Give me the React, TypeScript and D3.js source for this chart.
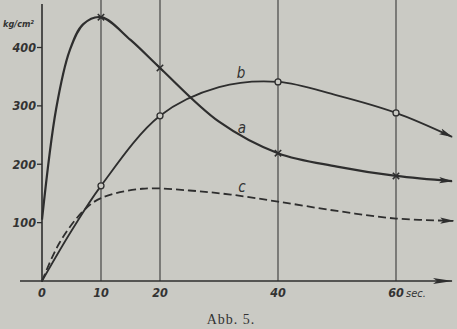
import React from "react";
import * as d3 from "d3";

const xTicks = [0, 10, 20, 40, 60];
const yTicks = [100, 200, 300, 400];
const gridX = [10, 20, 40, 60];

// curve a (stars at measured times)
const aX = [0, 2.4, 4.7, 7, 10, 15, 20, 30, 40, 50, 60, 69.5];
const aY = [105, 295, 395, 440, 452, 413, 365, 273, 219, 196, 180, 171];
const aMarks = [10, 20, 40, 60];
const aMarkY = [452, 365, 219, 180];

// curve b (circles)
const bX = [0, 5, 10, 20, 30, 40, 50, 60, 69.5];
const bY = [0, 86, 163, 283, 332, 341, 318, 288, 247];
const bMarks = [10, 20, 40, 60];
const bMarkY = [163, 283, 341, 288];

// curve c (dashed)
const cX = [0, 3, 7, 10, 17, 25, 32, 40, 50, 60, 69.7];
const cY = [0, 66, 120, 142, 158, 155, 148, 136, 120, 107, 103];

const BG = "#cacac4";
const INK = "#2e2e2e";

export default function App() {
  const x = d3.scaleLinear().domain([0, 60]).range([42, 396]);
  const y = d3.scaleLinear().domain([0, 400]).range([281, 47.5]);
  const line = d3
    .line<[number, number]>()
    .x((d) => x(d[0]))
    .y((d) => y(d[1]))
    .curve(d3.curveCatmullRom.alpha(0.5));
  const pts = (xs: number[], ys: number[]) => xs.map((v, i) => [v, ys[i]] as [number, number]);
  const tickFont = {
    fontFamily: "'DejaVu Sans Condensed', 'DejaVu Sans', sans-serif",
    fontStyle: "italic",
    fontWeight: 700 as const,
    fill: "#333",
  };

  return (
    <svg
      width={457}
      height={329}
      style={{ position: "absolute", left: 0, top: 0, background: BG }}
    >
      <defs>
        <marker id="arr" viewBox="0 0 14 8" refX="13" refY="4" markerWidth="14" markerHeight="8" markerUnits="userSpaceOnUse" orient="auto">
          <path d="M0,0.8 L14,4 L0,7.2 L3,4 Z" fill={INK} />
        </marker>
        <marker id="arrAx" viewBox="0 0 20 8" refX="19" refY="4" markerWidth="20" markerHeight="8" markerUnits="userSpaceOnUse" orient="auto">
          <path d="M0,1 L20,4 L0,7 L4,4 Z" fill={INK} />
        </marker>
      </defs>
      <rect width={457} height={329} fill={BG} />
      {gridX.map((g) => (
        <line key={g} x1={x(g)} x2={x(g)} y1={0} y2={y(0)} stroke="#3a3a3a" strokeWidth={1.1} />
      ))}
      <line x1={x(0)} x2={x(0)} y1={4} y2={y(0) + 1} stroke={INK} strokeWidth={1.6} />
      <line x1={20} x2={452} y1={y(0)} y2={y(0)} stroke={INK} strokeWidth={1.6} markerEnd="url(#arrAx)" />
      {yTicks.map((t) => (
        <g key={t}>
          <line x1={x(0) - 5} x2={x(0)} y1={y(t)} y2={y(t)} stroke={INK} strokeWidth={1.3} />
          <text x={36} y={y(t)} dy="0.36em" textAnchor="end" fontSize={12.5} style={tickFont}>
            {t}
          </text>
        </g>
      ))}
      <text x={3} y={27} fontSize={9} style={tickFont}>
        kg/cm²
      </text>
      {xTicks.map((t) => (
        <text key={t} x={x(t)} y={297} textAnchor="middle" fontSize={12.5} style={tickFont}>
          {t}
        </text>
      ))}
      <text x={x(60) + 10} y={297} fontSize={11} style={{ ...tickFont, fontWeight: 400 }}>
        sec.
      </text>
      <path d={line(pts(cX, cY)) || ""} fill="none" stroke={INK} strokeWidth={1.8} strokeDasharray="8 4" markerEnd="url(#arr)" />
      <path d={line(pts(bX, bY)) || ""} fill="none" stroke={INK} strokeWidth={1.8} markerEnd="url(#arr)" />
      <path d={line(pts(aX, aY)) || ""} fill="none" stroke={INK} strokeWidth={2.2} markerEnd="url(#arr)" />
      {bMarks.map((m, i) => (
        <circle key={m} cx={x(m)} cy={y(bMarkY[i])} r={3} fill={BG} stroke={INK} strokeWidth={1.3} />
      ))}
      {aMarks.map((m, i) => {
        const cx = x(m);
        const cy = y(aMarkY[i]);
        const s = 3.2;
        return (
          <g key={m} stroke={INK} strokeWidth={1.5}>
            <line x1={cx - s} x2={cx + s} y1={cy - s} y2={cy + s} />
            <line x1={cx - s} x2={cx + s} y1={cy + s} y2={cy - s} />
          </g>
        );
      })}
      <text x={241} y={78} textAnchor="middle" fontSize={15} style={{ ...tickFont, fontWeight: 400 }}>b</text>
      <text x={242} y={133} textAnchor="middle" fontSize={15} style={{ ...tickFont, fontWeight: 400 }}>a</text>
      <text x={242} y={192} textAnchor="middle" fontSize={15} style={{ ...tickFont, fontWeight: 400 }}>c</text>
      <text x={231} y={324} textAnchor="middle" fontSize={14} letterSpacing={1} fontFamily="'Liberation Serif', serif" fill="#333">
        Abb. 5.
      </text>
    </svg>
  );
}
